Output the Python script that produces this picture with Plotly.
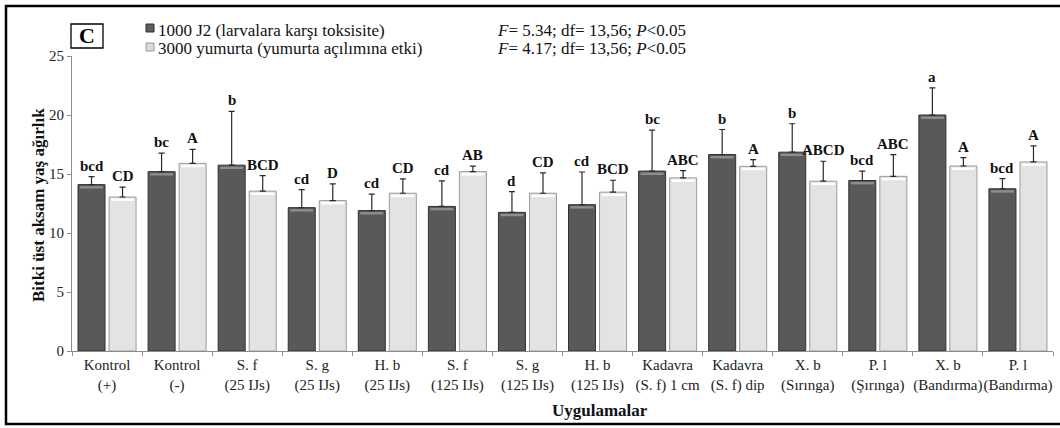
import plotly.graph_objects as go

# ---------------- data ----------------
categories = ["Kontrol<br>(+)", "Kontrol<br>(-)", "S. f<br>(25 IJs)", "S. g<br>(25 IJs)",
              "H. b<br>(25 IJs)", "S. f<br>(125 IJs)", "S. g<br>(125 IJs)", "H. b<br>(125 IJs)",
              "Kadavra<br>(S. f) 1 cm", "Kadavra<br>(S. f) dip", "X. b<br>(Sırınga)",
              "P. l<br>(Şırınga)", "X. b<br>(Bandırma)", "P. l<br>(Bandırma)"]

j2_values = [14.1, 15.2, 15.75, 12.15, 11.9, 12.25, 11.75, 12.4, 15.25, 16.65, 16.85, 14.45, 20.0, 13.75]
j2_errors = [0.68, 1.57, 4.56, 1.53, 1.39, 2.16, 1.76, 2.77, 3.47, 2.12, 2.41, 0.80, 2.30, 0.85]
j2_letters = ["bcd", "bc", "b", "cd", "cd", "cd", "d", "cd", "bc", "b", "b", "bcd", "a", "bcd"]

egg_values = [13.05, 15.9, 13.55, 12.75, 13.37, 15.2, 13.37, 13.46, 14.67, 15.65, 14.39, 14.8, 15.68, 16.02]
egg_errors = [0.83, 1.19, 1.32, 1.41, 1.21, 0.46, 1.72, 1.01, 0.62, 0.57, 1.69, 1.84, 0.71, 1.36]
egg_letters = ["CD", "A", "BCD", "D", "CD", "AB", "CD", "BCD", "ABC", "A", "ABCD", "ABC", "A", "A"]

legend_names = ["1000 J2 (larvalara karşı toksisite)", "3000 yumurta (yumurta açılımına etki)"]
stat_lines = ["<i>F</i>= 5.34; df= 13,56; <i>P</i>&lt;0.05", "<i>F</i>= 4.17; df= 13,56; <i>P</i>&lt;0.05"]
y_title = "Bitki üst aksam yaş ağırlık"
x_title = "Uygulamalar"
panel_label = "C"

# ---------------- style ----------------
FONT = "Liberation Serif, Times New Roman, serif"
W, H = 1060, 428
ML, MR, MT, MB = 72, 7, 56, 77
PW, PH = W - ML - MR, H - MT - MB


def px(x):
    return (x - ML) / PW


def py(y):
    return (H - MB - y) / PH


BAR_W = 27 / 70
DARK_OFF = -0.5 + 6 / 70
LIGHT_OFF = -0.5 + 37 / 70
DARK_C = DARK_OFF + BAR_W / 2
LIGHT_C = LIGHT_OFF + BAR_W / 2
STRIPE_W = 23 / 70

n = len(categories)
fig = go.Figure()

fig.add_trace(go.Bar(
    x=categories, y=j2_values, offset=DARK_OFF, width=BAR_W,
    marker=dict(color="#595959", line=dict(color="#333333", width=1)),
    error_y=dict(type="data", symmetric=False, array=j2_errors, arrayminus=[0] * n,
                 color="#2a2a2a", thickness=1.2, width=3),
    showlegend=False, name=legend_names[0]))
fig.add_trace(go.Bar(
    x=categories, y=egg_values, offset=LIGHT_OFF, width=BAR_W,
    marker=dict(color="#e3e3e3", line=dict(color="#9c9c9c", width=1)),
    error_y=dict(type="data", symmetric=False, array=egg_errors, arrayminus=[0] * n,
                 color="#2a2a2a", thickness=1.2, width=3),
    showlegend=False, name=legend_names[1]))

# bevel highlight stripes near the bar tops
fig.add_trace(go.Bar(
    x=categories, y=[0.2] * n, base=[v - 0.33 for v in j2_values],
    offset=DARK_C - STRIPE_W / 2, width=STRIPE_W,
    marker=dict(color="#8e8e8e", line=dict(width=0)), showlegend=False, hoverinfo="skip"))
fig.add_trace(go.Bar(
    x=categories, y=[0.2] * n, base=[v - 0.33 for v in egg_values],
    offset=LIGHT_C - STRIPE_W / 2, width=STRIPE_W,
    marker=dict(color="#ffffff", line=dict(width=0)), showlegend=False, hoverinfo="skip"))

annotations = []
for i in range(n):
    annotations.append(dict(x=i + DARK_C, y=j2_values[i] + j2_errors[i], xref="x", yref="y",
                            text="<b>%s</b>" % j2_letters[i], showarrow=False,
                            yanchor="bottom", yshift=1,
                            font=dict(family=FONT, size=15, color="#111111")))
    annotations.append(dict(x=i + LIGHT_C, y=egg_values[i] + egg_errors[i], xref="x", yref="y",
                            text="<b>%s</b>" % egg_letters[i], showarrow=False,
                            yanchor="bottom", yshift=1,
                            font=dict(family=FONT, size=15, color="#111111")))

# legend texts and stats
for k, (name, yy) in enumerate(zip(legend_names, [30, 49])):
    annotations.append(dict(x=px(156), y=py(yy), xref="paper", yref="paper", text=name,
                            showarrow=False, xanchor="left", yanchor="middle",
                            font=dict(family=FONT, size=17, color="#111111")))
for s, yy in zip(stat_lines, [30, 49]):
    annotations.append(dict(x=px(495), y=py(yy), xref="paper", yref="paper", text=s,
                            showarrow=False, xanchor="left", yanchor="middle",
                            font=dict(family=FONT, size=17, color="#111111")))

annotations.append(dict(x=px(87), y=py(36), xref="paper", yref="paper",
                        text="<b>%s</b>" % panel_label, showarrow=False,
                        xanchor="center", yanchor="middle",
                        font=dict(family=FONT, size=22, color="#000000")))
annotations.append(dict(x=px(38), y=py(205), xref="paper", yref="paper",
                        text="<b>%s</b>" % y_title, showarrow=False, textangle=-90,
                        xanchor="center", yanchor="middle",
                        font=dict(family=FONT, size=17, color="#111111")))
annotations.append(dict(x=px(600), y=py(411), xref="paper", yref="paper",
                        text="<b>%s</b>" % x_title, showarrow=False,
                        xanchor="center", yanchor="middle",
                        font=dict(family=FONT, size=17, color="#111111")))

shapes = [
    # outer frame (right edge falls outside the picture)
    dict(type="rect", xref="paper", yref="paper", x0=px(6), x1=px(1080), y0=py(424), y1=py(6),
         line=dict(color="#000000", width=2.5), layer="above"),
    # panel letter box
    dict(type="rect", xref="paper", yref="paper", x0=px(71), x1=px(103), y0=py(48), y1=py(24),
         line=dict(color="#000000", width=1.3), fillcolor="rgba(0,0,0,0)"),
    # legend swatches
    dict(type="rect", xref="paper", yref="paper", x0=px(146), x1=px(154), y0=py(32), y1=py(24),
         line=dict(color="#2e2e2e", width=1), fillcolor="#5e5e5e"),
    dict(type="rect", xref="paper", yref="paper", x0=px(146), x1=px(154), y0=py(51), y1=py(43),
         line=dict(color="#9a9a9a", width=1), fillcolor="#d9d9d9"),
]

fig.update_layout(
    width=W, height=H,
    margin=dict(l=ML, r=MR, t=MT, b=MB, pad=0),
    paper_bgcolor="white", plot_bgcolor="white",
    barmode="overlay",
    font=dict(family=FONT, size=15, color="#222222"),
    annotations=annotations, shapes=shapes,
    xaxis=dict(type="category", categoryorder="array", categoryarray=categories,
               range=[-0.5, n - 0.5], tickson="boundaries", ticks="outside", ticklen=4,
               tickcolor="#8c8c8c", showline=True, linecolor="#8c8c8c", linewidth=1,
               showgrid=False, tickangle=0,
               tickfont=dict(family=FONT, size=15, color="#222222")),
    yaxis=dict(range=[0, 25], dtick=5, ticks="outside", ticklen=4, tickcolor="#8c8c8c",
               showline=True, linecolor="#8c8c8c", linewidth=1, showgrid=False,
               zeroline=False, tickfont=dict(family=FONT, size=15, color="#222222")),
)

fig.write_html("out.html")
